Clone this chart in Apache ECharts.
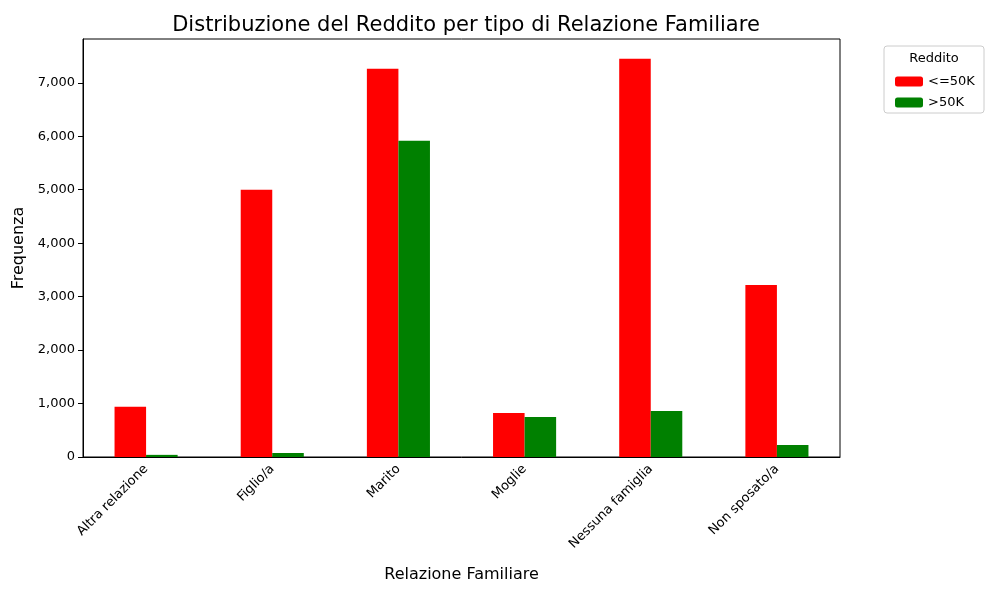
<!DOCTYPE html>
<html>
<head>
<meta charset="utf-8">
<script src="https://cdn.jsdelivr.net/npm/echarts@6/dist/echarts.min.js"></script>
<style>html,body{margin:0;padding:0;background:#fff}#main{width:1000px;height:600px}</style>
</head>
<body>
<div id="main"></div>
<script>
// dati
var categories = ['Altra relazione', 'Figlio/a', 'Marito', 'Moglie', 'Nessuna famiglia', 'Non sposato/a'];
var lowIncome = [940, 5000, 7265, 825, 7450, 3220];
var highIncome = [40, 75, 5915, 750, 860, 225];

var chart = echarts.init(document.getElementById('main'));
var font = 'DejaVu Sans';
chart.setOption({
  animation: false,
  textStyle: { fontFamily: font },
  title: {
    text: 'Distribuzione del Reddito per tipo di Relazione Familiare',
    left: 461, top: 10, textAlign: 'center',
    textStyle: { fontSize: 21, fontWeight: 'normal', color: '#000', fontFamily: font }
  },
  grid: { left: 83, right: 160, top: 39, bottom: 143 },
  legend: {
    orient: 'vertical', left: 890, top: 70,
    itemWidth: 28, itemHeight: 10, itemGap: 8,
    textStyle: { fontSize: 13, color: '#000', fontFamily: font },
    data: ['<=50K', '>50K']
  },
  graphic: [
    { type: 'rect', shape: { x: 884, y: 46, width: 100, height: 67, r: 3 },
      style: { fill: 'none', stroke: '#ccc' } },
    { type: 'text', x: 934, y: 52, style: { text: 'Reddito', textAlign: 'center', fontSize: 13, fill: '#000', fontFamily: font } }
  ],
  xAxis: {
    type: 'category', data: categories,
    name: 'Relazione Familiare', nameLocation: 'middle', nameGap: 110,
    nameTextStyle: { fontSize: 16, color: '#000', fontFamily: font },
    axisLine: { lineStyle: { color: '#000' } },
    axisTick: { alignWithLabel: true, lineStyle: { color: '#000' } },
    axisLabel: { rotate: 45, fontSize: 13, color: '#000', margin: 10 }
  },
  yAxis: {
    type: 'value', min: 0, max: 7820, interval: 1000,
    name: 'Frequenza', nameLocation: 'middle', nameGap: 55,
    nameTextStyle: { fontSize: 16, color: '#000', fontFamily: font },
    axisLine: { show: true, lineStyle: { color: '#000' } },
    axisTick: { show: true, lineStyle: { color: '#000' } },
    splitLine: { show: false },
    axisLabel: { fontSize: 13, color: '#000', showMaxLabel: false }
  },
  series: [
    { name: '<=50K', type: 'bar', data: lowIncome, itemStyle: { color: '#ff0000' }, barGap: '0%', barCategoryGap: '50%' },
    { name: '>50K', type: 'bar', data: highIncome, itemStyle: { color: '#008000' } }
  ]
});
// bordo superiore e destro
chart.setOption({ graphic: chart.getOption().graphic[0].elements.concat([
  { type: 'rect', shape: { x: 83, y: 39, width: 757, height: 418 }, style: { fill: 'none', stroke: '#000' }, silent: true }
]) });
</script>
</body>
</html>
